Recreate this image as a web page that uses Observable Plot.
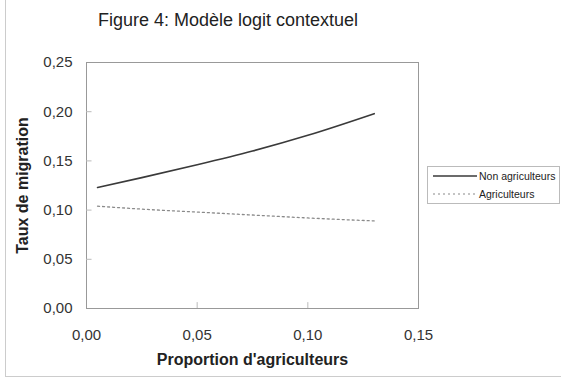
<!DOCTYPE html>
<html>
<head>
<meta charset="utf-8">
<script src="https://cdn.jsdelivr.net/npm/d3@7"></script>
<script src="https://cdn.jsdelivr.net/npm/@observablehq/plot@0.6"></script>
<style>
  body { margin: 0; background: #fff; font-family: "Liberation Sans", Arial, sans-serif; }
  #wrap { position: relative; width: 561px; height: 384px; }
  #border { position: absolute; left: 5px; top: -2px; width: 560px; height: 379px; border: 1px solid #ccc; box-sizing: border-box; }
  #title { position: absolute; left: 0; width: 456px; top: 10px; text-align: center; font-size: 18px; color: #222; }
  #legend { position: absolute; left: 427px; top: 166px; width: 133px; height: 38px; border: 1px solid #bbb; box-sizing: border-box; font-size: 10.5px; color: #222; }
  .row { position: absolute; left: 5px; display: flex; align-items: center; }
  .row svg { margin-right: 2px; }
  #plot { position: absolute; left: 0; top: 0; }
</style>
</head>
<body>
<div id="wrap">
  <div id="border"></div>
  <div id="title">Figure 4: Modèle logit contextuel</div>
  <div id="plot"></div>
  <div id="legend"></div>
</div>
<script>
const proportion = [0.005, 0.025, 0.05, 0.075, 0.10, 0.13];
const nonAgriculteurs = [0.123, 0.133, 0.146, 0.160, 0.176, 0.198];
const agriculteurs = [0.104, 0.101, 0.098, 0.095, 0.092, 0.089];
const series = ["Non agriculteurs", "Agriculteurs"];
const xTicks = [0, 0.05, 0.10, 0.15];
const yTicks = [0, 0.05, 0.10, 0.15, 0.20, 0.25];

const styles = {
  "Non agriculteurs": { stroke: "#3a3a3a", width: 1.6, dash: null },
  "Agriculteurs": { stroke: "#8a8a8a", width: 1.3, dash: "2,3" }
};

const data = [];
proportion.forEach((p, i) => {
  data.push({ x: p, y: nonAgriculteurs[i], s: series[0] });
  data.push({ x: p, y: agriculteurs[i], s: series[1] });
});

const fmt = d => d.toFixed(2).replace(".", ",");

const plot = Plot.plot({
  width: 561,
  height: 384,
  marginLeft: 86,
  marginRight: 143,
  marginTop: 62,
  marginBottom: 76,
  style: { fontFamily: "Liberation Sans, Arial, sans-serif", fontSize: "15px", color: "#333", background: "transparent" },
  x: { type: "linear", domain: [0, 0.15], ticks: xTicks, tickFormat: fmt, tickSize: 0, tickPadding: 21, label: "Proportion d'agriculteurs", labelArrow: "none", labelAnchor: "center", labelOffset: 56 },
  y: { type: "linear", domain: [0, 0.25], ticks: yTicks, tickFormat: fmt, tickSize: 0, tickPadding: 14, label: "Taux de migration", labelArrow: "none", labelAnchor: "center", labelOffset: 70 },
  marks: [
    Plot.frame({ stroke: "#999" }),
    Plot.ruleY(yTicks.slice(1, -1), { y: d => d, x1: 0, x2: 0.0025, stroke: "#bbb" }),
    Plot.ruleX(xTicks.slice(1, -1), { x: d => d, y1: 0, y2: 0.006, stroke: "#bbb" }),
    ...series.map(s => Plot.line(data.filter(d => d.s === s), {
      x: "x", y: "y", stroke: styles[s].stroke, strokeWidth: styles[s].width,
      strokeDasharray: styles[s].dash, curve: "monotone-x"
    }))
  ]
});
document.getElementById("plot").appendChild(plot);

plot.querySelectorAll("g[aria-label='x-axis label'], g[aria-label='y-axis label']").forEach(el => {
  el.setAttribute("font-weight", "bold");
  el.setAttribute("font-size", "16px");
  el.setAttribute("fill", "#222");
  el.querySelectorAll("text").forEach(t => { t.textContent = t.textContent.replace(/\s*[→↑←↓]\s*/g, ""); });
});

const legend = document.getElementById("legend");
series.forEach((s, i) => {
  const row = document.createElement("div");
  row.className = "row";
  row.style.top = (2 + i * 18) + "px";
  const st = styles[s];
  row.innerHTML = `<svg width="44" height="14"><line x1="0" y1="7" x2="44" y2="7" stroke="${st.stroke}" stroke-width="${st.width * 0.8}" ${st.dash ? `stroke-dasharray="${st.dash}"` : ""}/></svg><span>${s}</span>`;
  legend.appendChild(row);
});
</script>
</body>
</html>
